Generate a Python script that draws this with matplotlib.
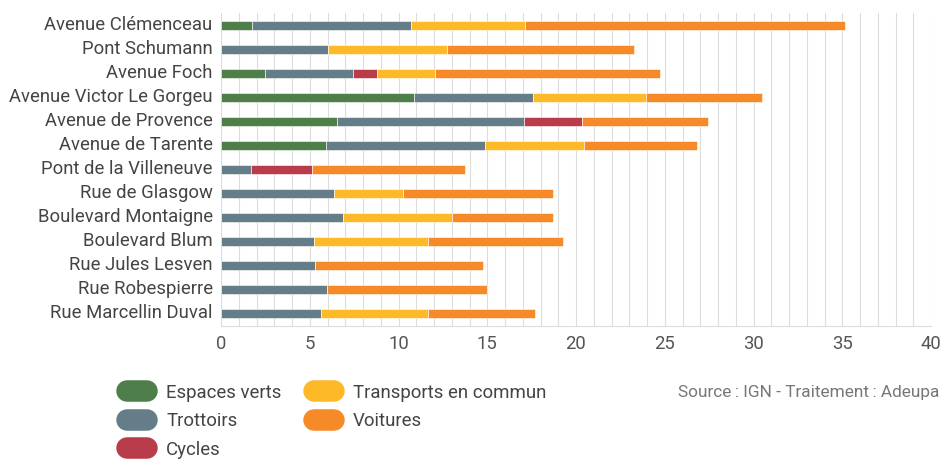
import numpy as np
import matplotlib.pyplot as plt
import matplotlib.transforms as mtransforms
from matplotlib.lines import Line2D

plt.rcParams['font.family'] = ['Roboto', 'DejaVu Sans']

streets = ["Avenue Clémenceau", "Pont Schumann", "Avenue Foch", "Avenue Victor Le Gorgeu",
           "Avenue de Provence", "Avenue de Tarente", "Pont de la Villeneuve", "Rue de Glasgow",
           "Boulevard Montaigne", "Boulevard Blum", "Rue Jules Lesven", "Rue Robespierre",
           "Rue Marcellin Duval"]

espaces_verts = [1.76, 0, 2.48, 10.86, 6.55, 5.94, 0, 0, 0, 0, 0, 0, 0]
trottoirs = [8.93, 6.04, 4.97, 6.71, 10.52, 8.91, 1.71, 6.38, 6.86, 5.23, 5.31, 5.96, 5.63]
cycles = [0, 0, 1.36, 0, 3.26, 0, 3.41, 0, 0, 0, 0, 0, 0]
transports = [6.41, 6.71, 3.23, 6.38, 0, 5.61, 0, 3.90, 6.14, 6.45, 0, 0, 6.05]
voitures = [18.04, 10.54, 12.69, 6.52, 7.10, 6.36, 8.63, 8.42, 5.73, 7.58, 9.45, 9.00, 5.99]

series = [("Espaces verts", espaces_verts, "#4e7f4a"),
          ("Trottoirs", trottoirs, "#647d88"),
          ("Cycles", cycles, "#b83c4a"),
          ("Transports en commun", transports, "#fdb927"),
          ("Voitures", voitures, "#f68a29")]

fig = plt.figure(figsize=(9.43, 4.59), dpi=100)
ax = fig.add_axes([221 / 943, 1 - 325.7 / 459, 710 / 943, 312.7 / 459])

y = np.arange(len(streets))
left = np.zeros(len(streets))
for name, vals, col in series:
    vals = np.array(vals)
    ax.barh(y, vals, left=left, height=0.4, color=col, edgecolor="white",
            linewidth=0.4, zorder=3)
    left += vals

ax.set_xlim(0, 40)
ax.set_ylim(12.5, -0.52)
ax.set_xticks(range(0, 41, 5))
ax.set_xticks(range(0, 41), minor=True)
ax.set_yticks(y)
ax.set_yticklabels(streets)
ax.grid(axis="x", which="both", color="#dcdcdc", linewidth=0.8, zorder=0)
for s in ["top", "right", "left"]:
    ax.spines[s].set_visible(False)
ax.spines["bottom"].set_color("#dcdcdc")
ax.spines["bottom"].set_linewidth(0.8)
ax.tick_params(axis="x", which="both", length=0, pad=7, labelsize=13.3, labelcolor="#555555")
ax.tick_params(axis="y", length=0, pad=6, labelsize=13.3, labelcolor="#444444")

# labels sit a little above the bar centres in the original
shift = mtransforms.ScaledTranslation(0, 2.5 / 100, fig.dpi_scale_trans)
for lab in ax.get_yticklabels():
    lab.set_transform(lab.get_transform() + shift)

handles = [Line2D([0], [0], color=c, lw=15.5, solid_capstyle="round") for _, _, c in series]
labels = [n for n, _, _ in series]
fig.legend(handles, labels, ncol=2, loc="upper left",
           bbox_to_anchor=(127 / 943, 1 - 384 / 459), frameon=False,
           fontsize=13.4, labelcolor="#444444", handlelength=1.05, handletextpad=1.05,
           columnspacing=1.75, labelspacing=0.56, borderpad=0, borderaxespad=0)

fig.text(678 / 943, 1 - 392 / 459, "Source\u2009: IGN - Traitement\u2009: Adeupa",
         fontsize=12.4, color="#777777", va="center", ha="left")

fig.savefig("out.png", dpi=100)
